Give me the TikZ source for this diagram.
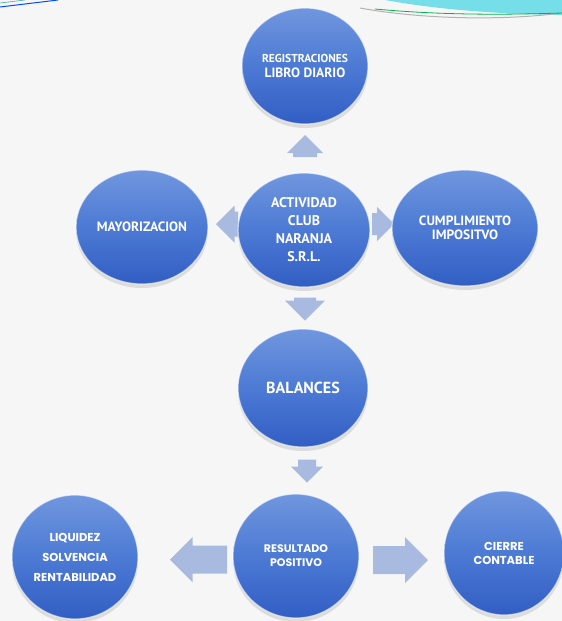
\documentclass[tikz,border=0pt]{standalone}
\usepackage{fontspec}
\setmainfont{PT Sans}
\newfontfamily\heavyfont{Poppins}
\usetikzlibrary{shapes.geometric,shadows}
\definecolor{bubbletop}{RGB}{112,150,222}
\definecolor{bubblemid}{RGB}{76,122,212}
\definecolor{bubblebot}{RGB}{50,94,196}
\definecolor{arrowblue}{RGB}{168,186,224}
\definecolor{swoosh}{RGB}{118,222,232}
\definecolor{paper}{RGB}{246,246,246}
\tikzset{
  bubble/.style={ellipse, inner sep=0pt, top color=bubbletop, bottom color=bubblebot,
    middle color=bubblemid, draw=white, draw opacity=0.6, line width=1.2pt,
    text=white, align=center,
    drop shadow={shadow xshift=0pt, shadow yshift=-4pt, opacity=0.22}},
  pics/flowarrow/.style n args={3}{code={% length, shaft, head
    \fill[arrowblue] ({-#1/2},{-#2/2}) -- ({#1/2-#3/2},{-#2/2}) -- ({#1/2-#3/2},{-#3/2})
      -- ({#1/2},0) -- ({#1/2-#3/2},{#3/2}) -- ({#1/2-#3/2},{#2/2}) -- ({-#1/2},{#2/2}) -- cycle;
  }}
}
\begin{document}
\begin{tikzpicture}[x=1pt,y=-1pt]
\fill[paper] (0,0) rectangle (562,621);
\useasboundingbox (0,0) rectangle (562,621);
% top swoosh
\fill[swoosh] (385,0) .. controls (440,10) and (500,14) .. (562,15) -- (562,0) -- cycle;
\draw[gray!60, line width=1pt] (360,8) .. controls (420,19) and (500,21) .. (562,13);
\draw[teal!60!green, line width=0.8pt] (375,9) .. controls (440,15) and (500,15) .. (562,13);
\draw[blue!70!cyan, line width=1pt] (0,7) -- (58,0);
\draw[teal!70, line width=0.6pt] (0,3) -- (25,0);
% arrows
\pic[rotate=90] (arrU) at (305,146) {flowarrow={22}{24}{36}};
\pic[rotate=180] (arrW) at (227,224) {flowarrow={22}{25}{37}};
\pic (arrE) at (383,224) {flowarrow={22}{22}{34}};
\pic[rotate=270] (arrD) at (305,309) {flowarrow={23}{22}{40}};
\pic[rotate=270] (arrB) at (307,471) {flowarrow={23}{18}{32}};
\pic[rotate=180] (arrL) at (198.5,559.5) {flowarrow={57}{28}{45}};
\pic (arrR) at (400.5,560) {flowarrow={55}{28}{46}};
% circles
\node[bubble, minimum width=126pt, minimum height=116pt, font=\bfseries\fontsize{11.5}{15}\selectfont] (reg) at (305,66)
  {REGISTRACIONES\\ {\fontsize{13.5}{14}\selectfont LIBRO DIARIO}};
\node[bubble, minimum width=132pt, minimum height=114pt, font=\bfseries\fontsize{13.5}{14}\selectfont] (may) at (142,227)
  {MAYORIZACION};
\node[bubble, minimum width=146pt, minimum height=116pt, font=\bfseries\fontsize{13.5}{14}\selectfont] (cum) at (465,228)
  {CUMPLIMIENTO\\ IMPOSITVO};
\node[bubble, minimum width=132pt, minimum height=114pt, font=\bfseries\fontsize{14}{18}\selectfont] (act) at (304,230)
  {ACTIVIDAD\\ CLUB\\ NARANJA\\ S.R.L.};
\node[bubble, minimum width=130pt, minimum height=118pt, font=\bfseries\fontsize{16}{18}\selectfont] (bal) at (303,388)
  {BALANCES};
\node[bubble, minimum width=126pt, minimum height=124pt, font=\heavyfont\bfseries\fontsize{11}{14}\selectfont] (res) at (296,556)
  {RESULTADO\\ POSITIVO};
\node[bubble, minimum width=126pt, minimum height=124pt, font=\heavyfont\bfseries\fontsize{11.5}{20}\selectfont] (liq) at (75,557)
  {LIQUIDEZ\\ SOLVENCIA\\ RENTABILIDAD};
\node[bubble, minimum width=120pt, minimum height=124pt, font=\heavyfont\bfseries\fontsize{11.5}{14}\selectfont] (cie) at (504,553)
  {CIERRE\\ CONTABLE};
\end{tikzpicture}
\end{document}
